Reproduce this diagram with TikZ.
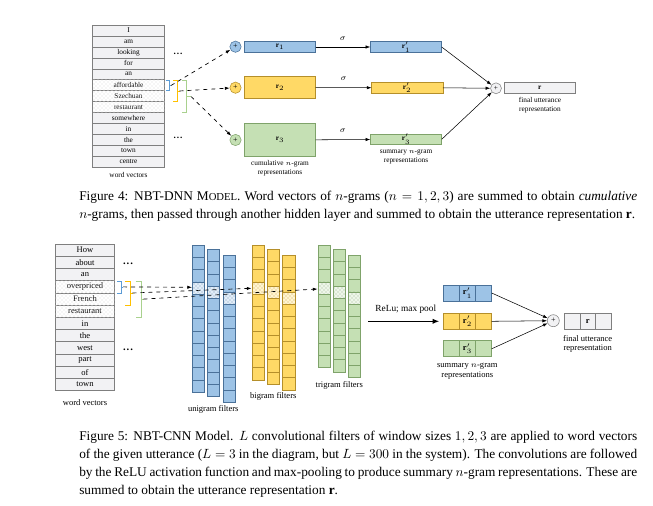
\documentclass[tikz,border=0pt]{standalone}
\usepackage{fontspec}
\setmainfont{Liberation Serif}
\usetikzlibrary{arrows.meta,positioning,patterns}
\definecolor{uniblue}{HTML}{9DC3E6}
\definecolor{uniedge}{HTML}{4A7199}
\definecolor{biyellow}{HTML}{FFD966}
\definecolor{biedge}{HTML}{B58F2A}
\definecolor{trigreen}{HTML}{C5E0B4}
\definecolor{triedge}{HTML}{7FA36A}
\definecolor{vecgray}{HTML}{F2F2F4}
\definecolor{vecedge}{HTML}{7F7F7F}
\definecolor{brblue}{HTML}{5B9BD5}
\definecolor{bryellow}{HTML}{FFC000}
\definecolor{brgreen}{HTML}{A9D18E}
\newcommand{\fsz}[2]{\fontsize{#1}{#2}\selectfont}
\newcommand{\vdotsrow}{\textbf{.\kern0.7pt.\kern0.7pt.}}

\begin{document}
\begin{tikzpicture}[x=0.75pt,y=-0.75pt,
    vec/.style={draw=vecedge,line width=0.4pt,inner sep=0pt,outer sep=0pt},
    rep/.style={draw,line width=0.5pt,inner sep=0pt,outer sep=0pt},
    sumdot/.style={circle,draw,line width=0.4pt,inner sep=0pt,minimum size=#1},
    lab/.style={align=center,inner sep=0pt,font=\fsz{5.5}{6.75}},
    labB/.style={align=center,inner sep=0pt,font=\fsz{6.4}{7}},
    dasharr/.style={-{Latex[length=3.5pt,width=2.5pt]},dashed,line width=0.5pt},
    arr/.style={-{Latex[length=3.5pt,width=2.5pt]},line width=0.4pt},
    capline/.style={anchor=base west,inner sep=0pt,font=\fsz{10}{12}}]
  \fill[white] (0,0) rectangle (653,506);
  \useasboundingbox (0,0) rectangle (653,506);

  % ---------- Figure 4: NBT-DNN ----------
  \foreach \w/\f [count=\i] in {I/vecgray,am/vecgray,looking/vecgray,for/vecgray,an/vecgray,
      affordable/white,Szechuan/white,restaurant/white,somewhere/vecgray,in/vecgray,
      the/vecgray,town/vecgray,centre/vecgray}
    \node[vec,fill=\f,minimum width=53.7pt,minimum height=8.21pt,font=\fsz{5.5}{6}]
      (a\i) at (128.5,{25+(\i-0.5)*10.95}) {\w};
  \foreach \i in {6,7,8}
    \path[pattern=crosshatch dots,pattern color=gray!30] (a\i.south west) rectangle (a\i.north east);
  \node[lab] (wv4) at (128.5,174.7) {word vectors};
  \node[font=\fsz{7}{7},anchor=base] (dotsA) at (178,55) {\vdotsrow};
  \node[font=\fsz{7}{7},anchor=base] (dotsB) at (178,139) {\vdotsrow};

  % n-gram brackets
  \draw[brblue,line width=0.6pt] (165.5,80.3) -- (169,80.3) -- (169,90.7) -- (165.5,90.7);
  \draw[bryellow,line width=0.6pt] (173,80.3) -- (177,80.3) -- (177,101.6) -- (173,101.6);
  \draw[brgreen,line width=0.6pt] (181.5,80.3) -- (186,80.3) -- (186,112.6) -- (181.5,112.6);
  \coordinate (t1) at (171,85.5);
  \coordinate (t2) at (179.5,91);
  \coordinate (t3) at (191,96.5);
  \draw[brblue,line width=0.6pt] (169,85.5) -- (t1);
  \draw[bryellow,line width=0.6pt] (177,91) -- (t2);
  \draw[brgreen,line width=0.6pt] (186,96.5) -- (t3);

  \node[sumdot=8.5pt,fill=uniblue,draw=uniedge,font=\fsz{6}{6}] (p1) at (235.5,46.7) {+};
  \node[sumdot=8.5pt,fill=biyellow,draw=biedge,font=\fsz{6}{6}] (p2) at (235.5,87.7) {+};
  \node[sumdot=8.5pt,fill=trigreen,draw=triedge,font=\fsz{6}{6}] (p3) at (235.5,140) {+};
  \draw[dasharr] (t1) -- (p1);
  \draw[dasharr] (t2) -- (p2);
  \draw[dasharr] (t3) -- (p3);

  % cumulative n-grams
  \node[rep,fill=uniblue,draw=uniedge,minimum width=53.55pt,minimum height=7.95pt,font=\fsz{5.5}{6}]
    (r1) at (280,47) {$\mathbf{r}_1$};
  \node[rep,fill=biyellow,draw=biedge,minimum width=53.55pt,minimum height=16.2pt,font=\fsz{5.5}{6}]
    (r2) at (280,87.5) {$\mathbf{r}_2$};
  \node[rep,fill=trigreen,draw=triedge,minimum width=53.55pt,minimum height=25pt,font=\fsz{5.5}{6}]
    (r3) at (280,140) {$\mathbf{r}_3$};
  \node[lab] (cum4) at (280,168.5) {cumulative $n$-gram\\representations};

  % summary n-grams
  \node[rep,fill=uniblue,draw=uniedge,minimum width=53.55pt,minimum height=7.95pt,font=\fsz{5.5}{6}]
    (r1p) at (406,47) {$\mathbf{r}_1'$};
  \node[rep,fill=biyellow,draw=biedge,minimum width=53.55pt,minimum height=8.25pt,font=\fsz{5.5}{6}]
    (r2p) at (407.2,87.8) {$\mathbf{r}_2'$};
  \node[rep,fill=trigreen,draw=triedge,minimum width=53.55pt,minimum height=7.5pt,font=\fsz{5.5}{6}]
    (r3p) at (406,139.3) {$\mathbf{r}_3'$};
  \node[lab] (sum4) at (406,157) {summary $n$-gram\\representations};
  \draw[arr] (r1) -- (r1p) node[midway,above=1.5pt,font=\fsz{6.5}{6.5}] {$\sigma$};
  \draw[arr] (r2) -- (r2p) node[midway,above=1.5pt,font=\fsz{6.5}{6.5}] {$\sigma$};
  \draw[arr] (r3) -- (r3p) node[midway,above=1.5pt,font=\fsz{6.5}{6.5}] {$\sigma$};

  \node[sumdot=8.2pt,fill=vecgray,draw=vecedge,font=\fsz{5.5}{6}] (s4) at (496,88.3) {+};
  \draw[arr] (r1p.east) -- (s4);
  \draw[arr] (r2p.east) -- (s4);
  \draw[arr] (r3p.east) -- (s4);
  \node[rep,fill=vecgray,draw=vecedge,minimum width=53.25pt,minimum height=8.25pt,font=\fsz{5.5}{6}]
    (u4) at (539.8,87.8) {$\mathbf{r}$};
  \node[lab] (fin4) at (540,105.5) {final utterance\\representation};

  \node[capline] (cap4a) at (79,200.5) {\makebox[418.5pt][s]{Figure 4: NBT-DNN M{\fsz{8}{12}ODEL}. Word vectors of $n$-grams ($n=1,2,3$) are summed to obtain \emph{cumulative}}};
  \node[capline] (cap4b) at (79,218.5) {$n$-grams, then passed through another hidden layer and summed to obtain the utterance representation $\mathbf{r}$.};

  % ---------- Figure 5: NBT-CNN ----------
  \foreach \w/\f [count=\i] in {How/vecgray,about/vecgray,an/vecgray,overpriced/white,
      French/white,restaurant/white,in/vecgray,the/vecgray,west/vecgray,part/vecgray,
      of/vecgray,town/vecgray}
    \node[vec,fill=\f,minimum width=44pt,minimum height=9.17pt,font=\fsz{6.4}{7}]
      (b\i) at (85,{244+(\i-0.5)*12.22}) {\w};
  \foreach \i in {4,5,6}
    \path[pattern=crosshatch dots,pattern color=gray!30] (b\i.south west) rectangle (b\i.north east);
  \node[labB] (wv5) at (85,402.7) {word vectors};
  \node[font=\fsz{8}{8},anchor=base] (dotsC) at (128,264.5) {\vdotsrow};
  \node[font=\fsz{8}{8},anchor=base] (dotsD) at (128,350.5) {\vdotsrow};

  \draw[brblue,line width=0.6pt] (117.3,281) -- (121,281) -- (121,292.9) -- (117.3,292.9);
  \draw[bryellow,line width=0.6pt] (125,281) -- (130,281) -- (130,305.1) -- (125,305.1);
  \draw[brgreen,line width=0.6pt] (135.7,281) -- (141,281) -- (141,317.3) -- (135.7,317.3);
  \coordinate (u1) at (123,286.9);
  \coordinate (u2) at (132.5,293);
  \coordinate (u3) at (143.5,299.1);
  \draw[brblue,line width=0.6pt] (121,286.9) -- (u1);
  \draw[bryellow,line width=0.6pt] (130,293) -- (u2);
  \draw[brgreen,line width=0.6pt] (141,299.1) -- (u3);

  % filter columns
  \foreach \x/\y/\n/\c/\e in {192.3/245/12/uniblue/uniedge,207.0/249.3/12/uniblue/uniedge,
      223.3/255/12/uniblue/uniedge,252.3/245/11/biyellow/biedge,267.3/249.3/11/biyellow/biedge,
      282.7/255/11/biyellow/biedge,318.3/245/10/trigreen/triedge,333.0/249.3/10/trigreen/triedge,
      348.3/255/10/trigreen/triedge}{
    \foreach \k in {1,...,\n}
      \draw[draw=\e,fill=\c,line width=0.4pt] (\x,{\y+(\k-1)*12.27}) rectangle ++(12.3,12.27);
    \fill[\c!30] (\x,{\y+3*12.27}) rectangle ++(12.3,12.27);
    \path[pattern=crosshatch dots,pattern color=\c!80!black] (\x,{\y+3*12.27}) rectangle ++(12.3,12.27);
    \draw[draw=\e,line width=0.4pt] (\x,{\y+3*12.27}) rectangle ++(12.3,12.27);
  }
  \node[labB] (uni) at (213.3,409.3) {unigram filters};
  \node[labB] (bi) at (273.3,396.7) {bigram filters};
  \node[labB] (tri) at (339.3,385) {trigram filters};
  \coordinate (uniin) at (192,287.3);
  \coordinate (biin) at (251.5,288.3);
  \coordinate (triin) at (317.5,289);
  \draw[dasharr] (u1) -- (uniin);
  \draw[dasharr] (u2) -- (biin);
  \draw[dasharr] (u3) -- (triin);

  % summary n-grams and utterance
  \node[rep,fill=uniblue,draw=uniedge,minimum width=12.1pt,minimum height=12pt] (s1a) at (451.35,293) {};
  \node[rep,fill=uniblue,draw=uniedge,minimum width=12.1pt,minimum height=12pt,font=\fsz{6.4}{7},right=0pt of s1a] (s1) {$\mathbf{r}_1'$};
  \node[rep,fill=uniblue,draw=uniedge,minimum width=12.1pt,minimum height=12pt,right=0pt of s1] (s1c) {};
  \node[rep,fill=biyellow,draw=biedge,minimum width=12.1pt,minimum height=12pt] (s2a) at (451.35,321.3) {};
  \node[rep,fill=biyellow,draw=biedge,minimum width=12.1pt,minimum height=12pt,font=\fsz{6.4}{7},right=0pt of s2a] (s2) {$\mathbf{r}_2'$};
  \node[rep,fill=biyellow,draw=biedge,minimum width=12.1pt,minimum height=12pt,right=0pt of s2] (s2c) {};
  \node[rep,fill=trigreen,draw=triedge,minimum width=12.1pt,minimum height=12pt] (s3a) at (451.35,348.8) {};
  \node[rep,fill=trigreen,draw=triedge,minimum width=12.1pt,minimum height=12pt,font=\fsz{6.4}{7},right=0pt of s3a] (s3) {$\mathbf{r}_3'$};
  \node[rep,fill=trigreen,draw=triedge,minimum width=12.1pt,minimum height=12pt,right=0pt of s3] (s3c) {};
  \node[labB] (sum5) at (467.3,371.3) {summary $n$-gram\\representations};

  \coordinate (relu) at (368.3,321.3);
  \draw[-{Latex[length=5pt,width=4pt]},line width=0.9pt,shorten >=3pt] (relu) -- (s2a.west)
    node[midway,above=2pt,font=\fsz{7}{7}] {ReLu; max pool};

  \node[sumdot=9pt,fill=vecgray,draw=vecedge,font=\fsz{6}{6}] (s5) at (553.3,320.7) {+};
  \draw[arr] (s1c.east) -- (s5);
  \draw[arr] (s2c.east) -- (s5);
  \draw[arr] (s3c.east) -- (s5);
  \node[rep,fill=vecgray,draw=vecedge,minimum width=11.9pt,minimum height=12pt] (v1) at (572,321.3) {};
  \node[rep,fill=vecgray,draw=vecedge,minimum width=11.9pt,minimum height=12pt,font=\fsz{6.4}{7},right=0pt of v1] (v2) {$\mathbf{r}$};
  \node[rep,fill=vecgray,draw=vecedge,minimum width=11.9pt,minimum height=12pt,right=0pt of v2] (v3) {};
  \node[labB] (fin5) at (587.7,343.7) {final utterance\\representation};

  \node[capline] (cap5a) at (79,440.5) {\makebox[418.5pt][s]{Figure 5: NBT-CNN Model. $L$ convolutional filters of window sizes $1,2,3$ are applied to word vectors}};
  \node[capline] (cap5b) at (79,458.5) {\makebox[418.5pt][s]{of the given utterance ($L=3$ in the diagram, but $L=300$ in the system). The convolutions are followed}};
  \node[capline] (cap5c) at (79,476.5) {\makebox[418.5pt][s]{by the ReLU activation function and max-pooling to produce summary $n$-gram representations. These are}};
  \node[capline] (cap5d) at (79,494.5) {summed to obtain the utterance representation $\mathbf{r}$.};
\end{tikzpicture}
\end{document}
